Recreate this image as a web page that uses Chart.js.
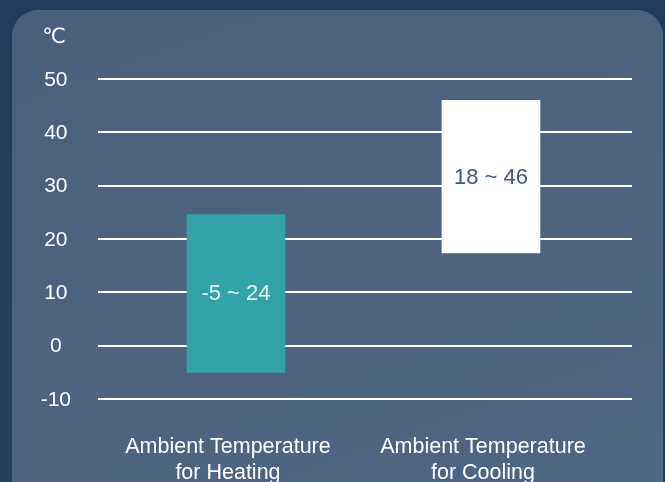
<!DOCTYPE html>
<html>
<head>
<meta charset="utf-8">
<script src="https://cdn.jsdelivr.net/npm/chart.js@4"></script>
<style>
  html, body { margin: 0; padding: 0; overflow: hidden; }
  body {
    width: 665px; height: 482px;
    background: linear-gradient(180deg, #223a5b 0%, #27425f 100%);
    position: relative;
  }
  #panel {
    position: absolute; left: 12px; top: 10px; width: 651px; height: 520px;
    border-radius: 26px;
    background: linear-gradient(160deg, #4a5f7b 0%, #4d637f 50%, #4f6684 100%);
  }
  #wrap { position: absolute; left: 0; top: 0; }
</style>
</head>
<body>
<div id="panel"></div>
<div id="wrap"><canvas id="myChart" width="665" height="500"></canvas></div>
<script>
// chart data
var categories = [['Ambient Temperature', 'for Heating'], ['Ambient Temperature', 'for Cooling']]
var lowValues = [-5, 17.4]
var highValues = [24.6, 46]
var rangeLabels = ['-5 ~ 24', '18 ~ 46']
var barColors = ['#33a3aa', '#ffffff']
var rangeLabelColors = ['#e6f4f4', '#405a79']
var yTicks = [-10, 0, 10, 20, 30, 40, 50]
var unitLabel = '℃'

var fontFamily = '"Liberation Sans", Arial, "DejaVu Sans", sans-serif'

var barData = []
for (var i = 0; i < categories.length; i++) {
  barData.push({ x: i, y: [lowValues[i], highValues[i]] })
}

const rangeLabelPlugin = {
  id: 'rangeLabels',
  afterDatasetsDraw(chart) {
    const ctx = chart.ctx
    const meta = chart.getDatasetMeta(0)
    ctx.save()
    ctx.font = '22px ' + fontFamily
    ctx.textAlign = 'center'
    ctx.textBaseline = 'middle'
    meta.data.forEach(function (bar, i) {
      ctx.fillStyle = rangeLabelColors[i]
      ctx.fillText(rangeLabels[i], bar.x, (bar.y + bar.base) / 2 + 1)
    })
    // unit above the y axis
    ctx.fillStyle = '#ffffff'
    ctx.font = '21px ' + fontFamily
    ctx.fillText(unitLabel, 54, 37)
    ctx.restore()
  }
}

const ctx = document.getElementById('myChart')

new Chart(ctx, {
  type: 'bar',
  data: {
    datasets: [{
      data: barData,
      backgroundColor: barColors,
      borderWidth: 0,
      barThickness: 98
    }]
  },
  plugins: [rangeLabelPlugin],
  options: {
    responsive: false,
    animation: false,
    layout: { padding: { top: 79, left: 0, right: 33, bottom: 0 } },
    plugins: {
      legend: { display: false },
      tooltip: { enabled: false }
    },
    scales: {
      x: {
        type: 'linear',
        offset: false,
        min: -0.541,
        max: 1.553,
        grid: { display: false, drawTicks: false, offset: false },
        border: { display: false },
        afterBuildTicks: function (scale) {
          scale.ticks = categories.map(function (c, i) { return { value: i } })
        },
        afterFit: function (scale) { scale.height = 101 },
        ticks: {
          callback: function (v) { return categories[v] },
          color: '#ffffff',
          padding: 35,
          labelOffset: -8,
          maxRotation: 0,
          font: { family: fontFamily, size: 21.5, lineHeight: 1.22 }
        }
      },
      y: {
        min: -10,
        max: 50,
        afterBuildTicks: function (scale) {
          scale.ticks = yTicks.map(function (v) { return { value: v } })
        },
        afterFit: function (scale) { scale.width = 98 },
        grid: { color: '#ffffff', lineWidth: 2, drawTicks: false },
        border: { display: false },
        ticks: {
          color: '#ffffff',
          padding: 27,
          crossAlign: 'center',
          labelOffset: 1,
          font: { family: fontFamily, size: 21 }
        }
      }
    }
  }
});
</script>
</body>
</html>
